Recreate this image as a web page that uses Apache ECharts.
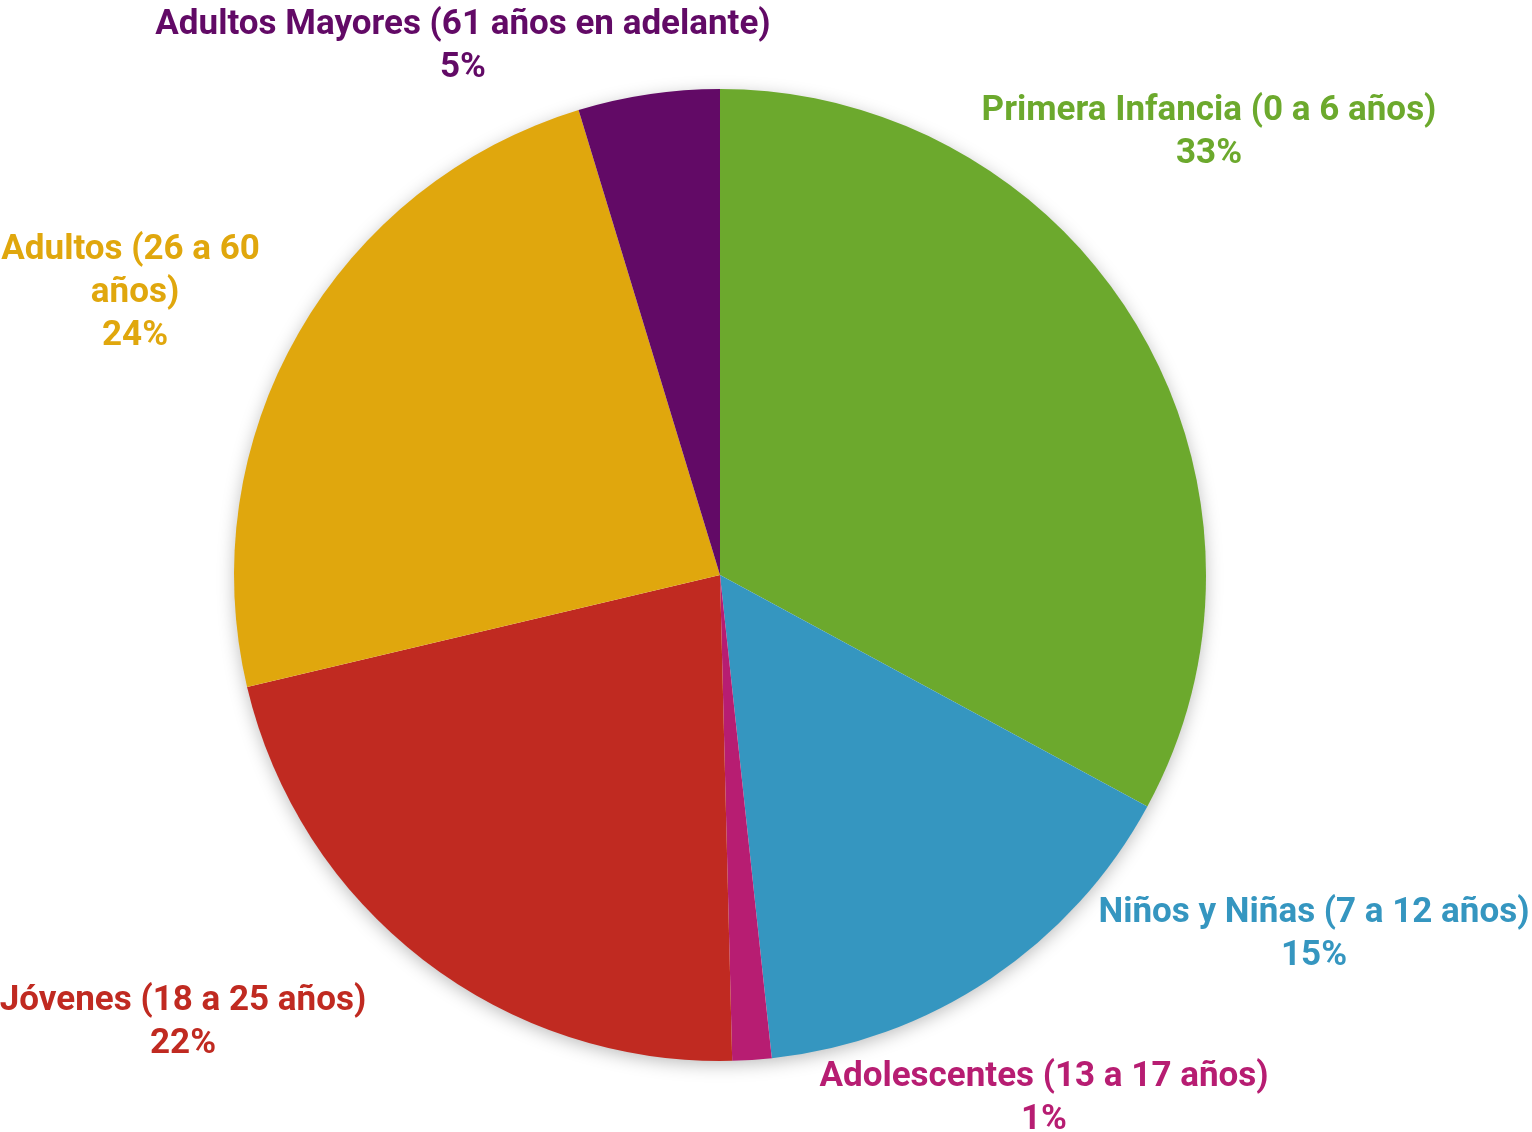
<!DOCTYPE html>
<html>
<head>
<meta charset="utf-8">
<script src="https://cdn.jsdelivr.net/npm/echarts@6/dist/echarts.min.js"></script>
<style>
  html, body { margin: 0; padding: 0; background: #fff; }
  #chart { width: 1532px; height: 1132px; }
</style>
</head>
<body>
<div id="chart"></div>
<script>
// grupos de edad y porcentaje de participantes
const categories = [
  "Primera Infancia (0 a 6 años)",
  "Niños y Niñas (7 a 12 años)",
  "Adolescentes (13 a 17 años)",
  "Jóvenes (18 a 25 años)",
  "Adultos (26 a 60 años)",
  "Adultos Mayores (61 años en adelante)"
];
const values = [32.9, 15.4, 1.3, 21.7, 24.0, 4.7];

const colors = ["#6CA92D", "#3596C0", "#B71D72", "#C02A21", "#E0A70D", "#620A66"];
// label block centers (layout only)
const labelPos = [
  [1209, 133],
  [1314, 935],
  [1044, 1099],
  [183, 1023],
  [135, 293],
  [463, 47]
];

const chart = echarts.init(document.getElementById("chart"));

chart.setOption({
  animation: false,
  series: [
    {
      // soft drop shadow behind the pie
      type: "pie",
      silent: true,
      center: [720, 575],
      radius: 485,
      data: [{ value: 1, itemStyle: { color: "#fff" } }],
      itemStyle: {
        shadowBlur: 18,
        shadowColor: "rgba(0,0,0,0.28)",
        shadowOffsetY: 4
      },
      label: { show: false },
      labelLine: { show: false },
      emphasis: { disabled: true }
    },
    {
      type: "pie",
      center: [720, 575],
      radius: 486,
      startAngle: 90,
      clockwise: true,
      percentPrecision: 0,
      data: categories.map((name, i) => ({
        name: name,
        value: values[i],
        itemStyle: { color: colors[i] },
        label: {
          color: colors[i],
          width: i === 4 ? 300 : undefined,
          overflow: i === 4 ? "break" : "none"
        }
      })),
      label: {
        show: true,
        position: "outside",
        formatter: "{b}\n{d}%",
        fontFamily: "Roboto",
        fontWeight: "bold",
        fontSize: 35,
        lineHeight: 43,
        align: "center"
      },
      labelLine: { show: false },
      labelLayout: function (params) {
        const p = labelPos[params.dataIndex];
        return { x: p[0], y: p[1], align: "center", verticalAlign: "middle" };
      },
      emphasis: { disabled: true }
    }
  ]
});
</script>
</body>
</html>
